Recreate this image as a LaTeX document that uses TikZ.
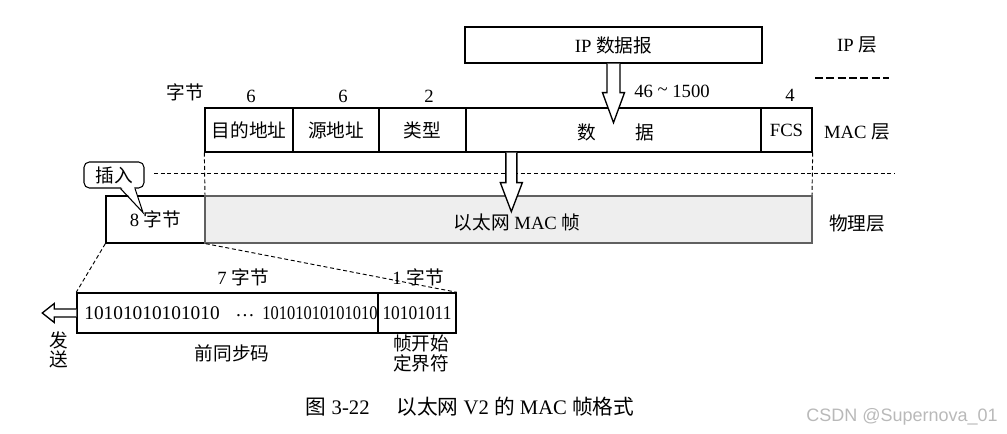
\documentclass[tikz,border=0pt]{standalone}
\usepackage{fontspec}
\setmainfont{Liberation Serif}
\newfontfamily\zh{Noto Sans CJK SC}
\newfontfamily\wmfont{Liberation Sans}
\usetikzlibrary{positioning, calc, shadows}

\tikzset{
  every node/.style={font=\fontsize{14pt}{14.5pt}\selectfont},
  field/.style={draw, line width=1pt, fill=white, minimum height=33pt, inner sep=0pt,
    drop shadow={shadow xshift=0.8pt, shadow yshift=-0.8pt, fill=gray!70, opacity=1}},
  hollow/.style={draw, fill=white, line width=1pt, line join=miter},
  sep/.style={draw, line width=0.7pt, dash pattern=on 3pt off 2pt},
  callout/.style={draw, line width=0.8pt, rounded corners=4pt, fill=white,
    minimum width=45pt, minimum height=19.5pt, inner sep=1pt},
  bitbox/.style={draw, line width=1.1pt, minimum height=30pt, inner sep=0pt},
  bits/.style={font=\fontsize{14.5pt}{15pt}\selectfont, inner sep=0pt},
}

\begin{document}
\begin{tikzpicture}[x=0.75pt, y=-0.75pt]
  \useasboundingbox (0,0) rectangle (1007,434);

  % IP layer
  \node[field, minimum width=222.75pt, minimum height=27pt] (ip) at (613.5,45) {IP {\zh 数据报}};
  \node (iplayer) at (857,45) {IP {\zh 层}};
  \draw[line width=0.9pt, dash pattern=on 6pt off 2.5pt] (815,78) -- (889,78);

  % MAC frame
  \node (bytes) at (185,92) {\zh 字节};
  \node[field, minimum width=66pt] (dst) at (249,130) {\zh 目的地址};
  \node[field, minimum width=64.5pt] (src) at (336,130) {\zh 源地址};
  \node[field, minimum width=65.25pt] (type) at (422.5,130) {\zh 类型};
  \node[field, minimum width=221.25pt] (data) at (613.5,130) {};
  \node[field, minimum width=38.25pt] (fcs) at (786.5,130) {FCS};
  \node (datatxt) at (616,132) {{\zh 数}\hspace{30pt}{\zh 据}};
  \node (maclayer) at (857,132) {MAC {\zh 层}};

  \node (ndst) at (251,96) {6};
  \node (nsrc) at (343,96) {6};
  \node (ntype) at (429,96) {2};
  \node (ndata) at (672,91) {46 \raisebox{1pt}{\textasciitilde} 1500};
  \node (nfcs) at (790,95) {4};

  \draw[hollow, shift={(ip.south)}] (-6.5,0) -- (-6.5,29) -- (-11,29) -- (0,59) -- (11,29) -- (6.5,29) -- (6.5,0);

  % layer boundary
  \draw[sep] (154,173) -- (895,173);
  \draw[sep] (dst.south west) -- (205,196);
  \draw[sep] (fcs.south east) -- (812,196);

  % physical layer
  \node[draw, line width=1pt, fill=white, minimum width=74.25pt, minimum height=35.25pt, inner sep=0pt] (pre8) at (155.5,219.5) {8 {\zh 字节}};
  \node[draw=gray!75!black, line width=1pt, fill=gray!13, minimum width=455.25pt, minimum height=35.25pt, inner sep=0pt] (frame) at (508.5,219.5) {};
  \node (frametxt) at (517,222) {{\zh 以太网} MAC {\zh 帧}};
  \node (phylayer) at (857,223) {\zh 物理层};

  \draw[hollow, shift={($(data.south west)+(46,0)$)}] (-5.5,0) -- (-5.5,30) -- (-11,30) -- (0,59) -- (11,30) -- (5.5,30) -- (5.5,0);

  % insert callout
  \node[callout] (insert) at (114,175) {\zh 插入};
  \fill[white, shift={(insert.south)}] (7,-1.5) -- (29,24) -- (20,-1.5) -- cycle;
  \draw[line width=0.8pt, line join=miter, shift={(insert.south)}] (6.5,0) -- (29,24) -- (21,0);

  % preamble detail
  \node[bitbox, minimum width=225.75pt] (pre) at (227.5,313) {};
  \node[bitbox, minimum width=58.5pt] (sfd) at (417,313) {};
  \node[bits] (bitsc) at (417,313) {\scalebox{0.9}[1]{10101011}};
  \node[bits] (bitsa) at (152,313) {10101010101010};
  \node[bits] (dots) at (245,316) {\dots};
  \node[bits] (bitsb) at (320,313) {\scalebox{0.85}[1]{10101010101010}};

  \draw[sep] (pre8.south west) -- (pre.north west);
  \draw[sep] (pre8.south east) -- (sfd.north east);

  \node (seven) at (243,277) {7 {\zh 字节}};
  \node (one) at (418,277) {1 {\zh 字节}};
  \node (pretxt) at (232,353) {\zh 前同步码};
  \node[align=center] (sfdtxt) at (421,353.5) {\zh 帧开始\\\zh 定界符};

  \draw[hollow, shift={(pre.west)}] (0,-4) -- (-22,-4) -- (-22,-9.5) -- (-34,0) -- (-22,9.5) -- (-22,4) -- (0,4);
  \node[align=center] (send) at (59,350) {\zh 发\\\zh 送};

  % caption
  \node[font=\fontsize{15.5pt}{16pt}\selectfont] (caption) at (470,407) {{\zh 图} 3-22\hspace{1.3em}{\zh 以太网} V2 {\zh 的} MAC {\zh 帧格式}};
  \node[font=\wmfont\fontsize{13.5pt}{14pt}\selectfont, text=gray!55] (mark) at (902,417) {CSDN @Supernova\_01};
\end{tikzpicture}
\end{document}
